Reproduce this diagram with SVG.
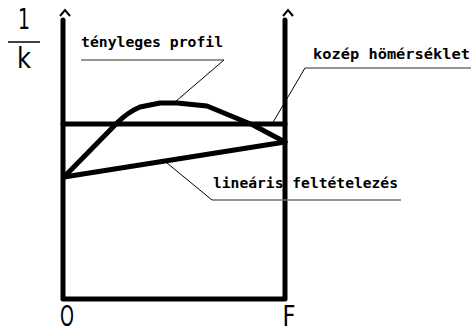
<svg xmlns="http://www.w3.org/2000/svg" width="471" height="332" viewBox="0 0 471 332">
<style>
.thick{fill:none;stroke:#000;stroke-width:5;stroke-linejoin:round;stroke-linecap:round}
.arrow{fill:none;stroke:#000;stroke-width:2}
.lead{fill:none;stroke:#000;stroke-width:1}
.ul{fill:none;stroke:#707070;stroke-width:1.5}
.lbl{font-family:"DejaVu Sans Mono","Liberation Mono",monospace;font-weight:bold;font-size:14px;fill:#000}
.big{font-family:"DejaVu Sans","Liberation Sans",sans-serif;font-size:28px;fill:#000}
</style>
<g id="axes">
<path class="thick" d="M63,20 V299 H285 V20"/>
<path class="arrow" d="M60,16 L65,10 L70,16"/>
<path class="arrow" d="M283,16 L288,10 L293,16"/>
</g>
<g id="mean-line"><path class="thick" d="M63,124 H285"/></g>
<g id="actual-profile"><path class="thick" d="M64,177 L117,123 Q128,112 140,107 L160,103 L177,103 L207,106 L253,125 L285,142"/></g>
<g id="linear"><path class="thick" d="M64,177 L285,142"/></g>
<g id="connectors">
<path class="ul" d="M81,60 H224"/>
<path class="lead" d="M224,60 L175,102"/>
<path class="ul" d="M305,68 H471"/>
<path class="lead" d="M305,68 L272,124"/>
<path class="ul" d="M212,200 H401"/>
<path class="lead" d="M212,200 L167,163"/>
</g>
<g id="labels">
<text class="lbl" x="81" y="47" textLength="142" lengthAdjust="spacingAndGlyphs">tényleges profil</text>
<text class="lbl" x="313" y="59" textLength="157" lengthAdjust="spacingAndGlyphs">kozép hömérséklet</text>
<text class="lbl" x="213" y="188" textLength="185" lengthAdjust="spacingAndGlyphs">lineáris feltételezés</text>
</g>
<g id="yaxis-label">
<text class="big" x="24" y="29" text-anchor="middle" textLength="12" lengthAdjust="spacingAndGlyphs">1</text>
<path d="M8,42 H40" stroke="#000" stroke-width="1.5"/>
<text class="big" x="24" y="68" text-anchor="middle" textLength="14" lengthAdjust="spacingAndGlyphs">k</text>
</g>
<g id="xaxis-labels">
<text class="big" x="67" y="326" font-size="24" text-anchor="middle" textLength="14" lengthAdjust="spacingAndGlyphs">O</text>
<text class="big" x="289" y="326" font-size="24" text-anchor="middle" textLength="13" lengthAdjust="spacingAndGlyphs">F</text>
</g>
</svg>
